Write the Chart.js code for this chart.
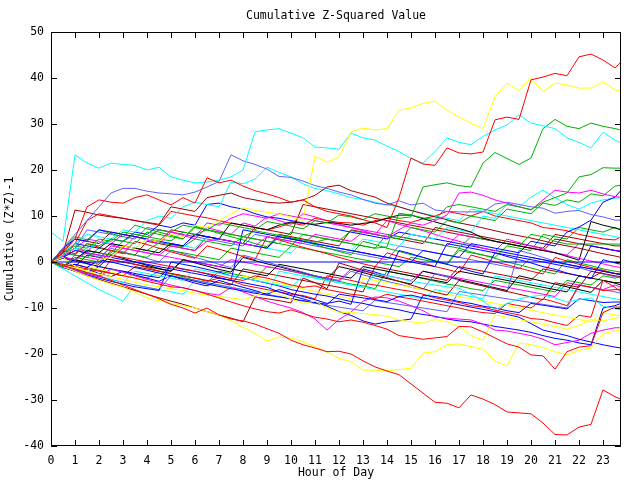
<!DOCTYPE html>
<html>
<head>
<meta charset="utf-8">
<script src="https://cdn.jsdelivr.net/npm/chart.js@4.4.1/dist/chart.umd.min.js"></script>
<style>
  html, body { margin: 0; padding: 0; background: #fff; }
</style>
</head>
<body>
<canvas id="myChart" width="640" height="480"></canvas>
<script>
// sample times, every half hour plus the last quarter
const hours = [
  0, 0.5, 1, 1.5, 2, 2.5, 3, 3.5, 4, 4.5, 5, 5.5, 6, 6.5, 7, 7.5, 8, 8.5, 9, 9.5,
  10, 10.5, 11, 11.5, 12, 12.5, 13, 13.5, 14, 14.5, 15, 15.5, 16, 16.5, 17, 17.5,
  18, 18.5, 19, 19.5, 20, 20.5, 21, 21.5, 22, 22.5, 23, 23.5, 23.75,
];
const hourTicks = [0, 1, 2, 3, 4, 5, 6, 7, 8, 9, 10, 11, 12, 13, 14, 15, 16, 17, 18, 19, 20, 21, 22, 23];

// one array per day
const blue0 = [
  0, 0, 0, 0, 0, 0, 0, 0, 0, 0, 0, 0, 0, 0, 0, 0, 0, 0, 0, 0, 0, 0, 0, 0, 0,
  0, 0, 0, 0, 0, 0, 0, 0, 0, 0, 0, 0, 0, 0, 0, 0, 0, 0, 0, 0, 0, 0, 0, 0,
];
const red1 = [
  0, 2, 5, 12, 13.5, 13, 12.8, 14, 14.6, 13.5, 12.4, 14, 12.8, 18.3, 17.2, 17.8,
  16.5, 15.5, 14.8, 14, 13, 13.5, 12, 11, 10.5, 10, 9.2, 8.5, 7.5, 14, 22.6, 21.3,
  21, 24.8, 23.7, 23.5, 23.9, 30.9, 31.5, 31, 39.6, 40.2, 41, 40.5, 44.6, 45.2,
  43.9, 42.2, 43.5,
];
const red2 = [
  0, -0.8, -1.5, -2.3, -3, -4, -5, -6, -7, -8, -9.2, -10, -11.1, -10, -11.5, -12.4,
  -12.8, -13.5, -14.5, -15.5, -17, -18, -18.7, -19.5, -19.4, -20, -21.5, -22.8,
  -23.7, -24.5, -26.5, -28.5, -30.5, -30.7, -31.7, -28.9, -29.8, -31, -32.6, -32.8,
  -33, -35, -37.5, -37.6, -35.9, -35.3, -27.8, -29.3, -29.8,
];
const red3 = [
  0, -0.5, -1, -1.5, -2, -2.5, -3, -3.5, -4.2, -4.8, -5.4, -5.6, -6.2, -7, -7.8,
  -8.7, -9.5, -10.2, -10.8, -11.1, -10.4, -11.2, -12, -12.4, -13, -12.6, -13.1,
  -13.8, -14.6, -16, -16.4, -16.8, -16.5, -16.2, -14, -14.1, -15.2, -16.5, -17.8,
  -18.5, -20.2, -20.4, -23.3, -19.5, -18.5, -18.2, -11, -9.8, -9.8,
];
const red4 = [
  0, 1.5, 3, 2.5, 2, 1.5, 1, 0.5, 0, -0.5, -1, -1.6, -2, -2.5, -3, -3.6, -4, -3,
  -3.5, -4.2, -5, -5.5, -5.2, -6, -6.5, -7, -7.3, -8, -7, -7.6, -8, -8.5, -9, -9.5,
  -10, -10.6, -11, -11.2, -9, -9.5, -10, -8, -8.7, -9.5, -5, -5.5, -6.2, -6, -6,
];
const red5 = [
  0, 1, 4, 9, 10.5, 10, 9.5, 9, 8.5, 8, 11, 10.5, 10, 9.6, 9, 8.4, 8, 7.5, 7, 7.6,
  8.5, 8, 9.5, 9, 8.6, 8.5, 8, 9, 9.5, 9, 8.6, 9.4, 10, 11, 10.5, 10, 11, 10, 9.5,
  9, 8.5, 7.5, 7.2, 6.8, 6, 5.5, 5, 4.8, 5.5,
];
const red6 = [
  0, -1, -1.6, -2.2, -3, 0.5, 0, -0.5, -1.2, -2, -2.5, -3, -3.5, -4.2, -3.5, -4, -5,
  -5.5, -6, -6.5, -7, -7.3, -8, -3, -3.5, -4, -4.6, -5, -5.5, -6, -6.4, -7, -7.8,
  -8.3, -8.8, -9.5, -9.8, -10.5, -11, -11.5, -12.3, -12.5, -13.2, -13.8, -11.6, -12,
  -4, -5.5, -6.5,
];
const red7 = [
  0, 2.5, 1.8, 4, 3.2, 2.5, 1.8, 4.5, 3.8, 3, 2.2, 1.5, 0.8, 3.5, 2.8, 2, 1.2, 0.5,
  5.5, 4.8, 4, 3.2, 2.5, 1.8, 1, 0.3, -0.4, -1, 2, 1.2, 0.5, -0.2, -1, -1.6, -2.3,
  1.5, 0.8, 0, -0.6, -1.3, -2, -2.6, 1, 0.2, -0.5, -1.2, -1.8, -2.5, -2.8,
];
const green1 = [
  0, 2, 3.5, 3, 5, 4.5, 6.5, 6, 5.5, 7, 6.5, 8, 7.5, 7, 8.5, 8, 7.5, 7, 8.8, 8.3,
  7.8, 7.2, 9, 8.5, 10.2, 9.8, 9.2, 10.5, 10, 9.5, 9.8, 16.3, 16.8, 17.2, 16.6, 16.3,
  21.5, 23.8, 22.5, 21.2, 22.6, 29, 31, 29.5, 29, 30.2, 29.5, 29, 28.7,
];
const green2 = [
  0, -1, 1.5, 4, 3.5, 5, 4.5, 6, 5.5, 5, 4.6, 6.5, 6, 7, 6.5, 6, 5.5, 6.8, 6.3, 5.8,
  5.3, 4.8, 4.3, 5, 4.5, 4, 3.5, 3, 3.3, 10.6, 10.2, 9.6, 9.2, 12, 12.5, 12, 11.5,
  11, 12.5, 12, 11.4, 13, 14, 15, 18.5, 19, 20.5, 20.4, 20.4,
];
const green3 = [
  0, 1, 0.5, 2.5, 2, 1.5, 3.5, 3, 2.5, 4.2, 3.8, 3.3, 5, 4.5, 4, 3.5, 5.5, 5, 4.5, 4,
  6.5, 6, 5.5, 5, 4.6, 6.8, 6.4, 6, 5.5, 5, 7.5, 7, 6.5, 9, 8.5, 10, 9.5, 9, 11.5, 11,
  10.5, 12.8, 12.3, 13.5, 13, 14.8, 14.4, 16.5, 16.7,
];
const green4 = [
  0, 2, 1.5, 1, 3, 2.5, 2, 1.5, 1, 3, 2.5, 2, 1.5, 1, 0.5, 3, 2.5, 2, 1.5, 1, 3.5, 3,
  2.5, 2, 1.5, 1, 0.5, 0, -0.5, -1, 1, 0.5, 0, -0.5, 2.5, 2, 1.5, 1, 3.5, 3, 2.5, 6,
  5.5, 5, 7.5, 7, 6.5, 7.5, 7,
];
const green5 = [
  0, -1, 1, 0.5, 0, 2, 4.5, 4, 6.5, 6, 5.5, 5, 7.5, 7, 6.5, 6, 5.5, 5, 4.5, 4, 3.5, 6,
  5.5, 5, 4.5, 4, 3.5, 3, 6, 5.5, 5, 4.5, 4, 3.5, 3, 5.5, 5, 4.5, 4, 3.5, 6, 5.5, 4.5,
  3.9, 3.9, 3.9, 3.9, 3.9, 3.9,
];
const green6 = [
  0, -1, -1.8, -2.5, -1, -1.6, -2.2, -3, -3.5, -2, -2.6, -3.2, -4, -4.5, -2, -2.5, -3,
  -3.6, -1, -1.5, -2, -2.6, -3.2, -3.8, -4.2, -4.8, -5.2, -5.8, -2, -2.5, -3, -3.6,
  -4.2, -4.8, -5.2, -5.8, -6.2, -4, -4.5, -5, -5.5, -6, -6.5, -4, -4.5, -5, -3, -3.5,
  -3.2,
];
const green7 = [
  0, 3, 5.5, 4.8, 7, 6.2, 5.5, 8, 7.2, 6.5, 5.8, 5, 7.8, 7, 6.2, 5.5, 4.8, 4, 3.3, 6,
  5.2, 4.5, 3.8, 3, 2.3, 1.6, 4.5, 3.8, 3, 2.3, 1.6, 1, 0.3, -0.4, 3, 2.2, 1.5, 0.8,
  0, -0.6, -1.3, -2, -2.6, 0.5, -0.2, -0.8, -1.5, -2, -2.2,
];
const blue1 = [
  0, 3, 5, 4.5, 7, 6.5, 6, 5.5, 5, 4.5, 4, 3.5, 6, 5.5, 5, 4.5, 4, 3.5, 3, 5.5, 5,
  4.5, 4, 3.5, 3, 2.5, 2, 1.5, 1, 0.5, 0, 2.5, 2, 1.5, 1, 4, 3.5, 3, 2.5, 2, 4.5, 4,
  3.5, 6.5, 7.6, 9.1, 13, 14.1, 15.6,
];
const blue2 = [
  0, -1, -0.5, -1.2, 0.5, 0, -0.6, -1.2, -1.8, -2.4, -3, -3.6, -4.2, -4.8, -5.3, -5.8,
  -6.3, -6.8, -7.2, -7.6, -8, -8.4, -8.8, -9.2, -7, -7.4, -7.8, -8.2, -8.6, -7.5,
  -7.2, -7.8, -8.3, -8.8, -9.3, -9.8, -10.3, -10.8, -11.4, -12, -13.4, -14.8, -15.4,
  -16, -16.8, -17.4, -18, -18.5, -18.7,
];
const blue3 = [
  0, 1, 2.5, 2, 1.5, 1, 0.5, 0, -0.5, -1, -1.5, -2, -2.5, -3, -3.5, -4, -4.5, -5,
  -5.5, -6.5, -7.3, -8, -8.8, -9.6, -10.8, -11.6, -12.8, -13.5, -13, -12.8, -12.4,
  -7.2, -7.5, -8, -8.6, -9, -9.6, -10, -10.6, -11, -9, -9.4, -9.8, -10.2, -8, -8.4,
  -8.8, -8.7, -8.7,
];
const blue4 = [
  0, -1.2, -2, -2.8, -3.5, -4.2, -4.8, -5.4, -5.8, -6.2, 0, -0.5, -1, -1.6, -2.2, -3,
  -3.5, -4, -4.6, -5.2, -6, -6.5, -7, -7.4, -8, -8.6, -9, -9.6, -10, -10.4, -11,
  -11.4, -11.8, -12.4, -12.8, -13, -13.5, -14, -14.4, -14.8, -15.3, -16, -16.6, -17,
  -17.6, -18, -10, -9.5, -9,
];
const blue5 = [
  0, 0.8, 0.2, -0.4, -1, -1.5, -2, -2.5, -3, -3.4, -1, -1.5, -2, -2.6, -3.4, -4, 7,
  6.5, 6, 5.5, 5, 4.5, 4, 3.5, 3, 2.5, 2, 1.5, 1, 0.5, 0, -0.5, -1, 4, 3.5, 3, 2.5, 2,
  1.5, 1, 0.5, 0, -0.5, -1, -1.5, 3.5, 3, 2.5, 2.2,
];
const blue6 = [
  0, 2, 4, 3.5, 3, 5, 4.5, 6.5, 6, 8, 7.5, 8.5, 8, 12.5, 12.8, 12, 11.5, 10.5, 9.8,
  9.5, 9, 8.5, 8, 7.5, 7, 6.5, 6, 5.5, 5, 6.5, 6, 5.5, 5, 4.5, 4, 3.5, 3, 2.5, 2, 1.5,
  1, 0.5, 0, -0.5, -1, -1.5, -2, -2.5, -2.8,
];
const blue7 = [
  0, -1, -2, -1.5, -2.5, -3.2, -2, -2.8, -3.5, -4.2, -3, -3.8, -4.6, -5.2, -4, -4.8,
  -5.5, -6.2, -7, -6, -6.8, -7.5, -8.2, -9, -8.5, -9.2, -1.5, -2.2, -3, 2.5, 1.8, 1,
  0.2, -0.5, -1.2, -2, -2.6, 2, 1.2, 0.5, -0.2, -1, -1.6, -2.4, -3, -3.6, 0.5, -0.2,
  -0.5,
];
const magenta1 = [
  0, 1, 0.5, 2, 1.5, 1, 3, 2.5, 2, 1.5, 3.5, 3, 2.5, 4.5, 5, 4.5, 4, 3.5, 5.5, 5, 4.5,
  4, 6, 5.5, 5, 4.5, 6.5, 6, 5.5, 7, 8.5, 8, 9, 10.2, 15, 15.2, 14.5, 13.5, 12.8, 12,
  11.3, 13.5, 15.6, 15.2, 15, 15.6, 14.8, 14.2, 14.1,
];
const magenta2 = [
  0, -1, -1.8, -2.6, -3.2, -1.5, -2.2, -3, -3.8, -4.4, -5, -5.6, -6.2, -6.8, -7.2,
  -5.5, -6.5, -7.5, -8.5, -9.3, -10, -11, -12.4, -14.8, -12.5, -10.9, -8.5, -7.6,
  -7.8, -8.5, -9.5, -10.6, -12, -12.2, -12.4, -12.6, -13.5, -14.8, -15, -15.5, -16,
  -16.8, -18, -17.5, -17, -15.5, -14.8, -14.3, -14.3,
];
const magenta3 = [
  0, 2, 1.5, 1, 0.5, 3.5, 3, 2.5, 2, 1.5, 1, 0.5, 0, -0.5, -1, 0.5, 0, -0.5, -1, -1.5,
  -2, -2.5, -3, -3.5, -4, -1.5, -2, -2.5, -3, -3.5, -4, -2, -2.5, -3, -3.5, -4, -4.5,
  -5, -5.5, -6, -6.5, -7, -7.5, -4.5, -5, -5.5, -6, -5, -5.5,
];
const magenta4 = [
  0, 1.5, 3, 5, 4.5, 4, 6, 5.5, 5, 7, 6.5, 6, 5.5, 8.5, 8, 9.5, 10.5, 10, 9.5, 10.5,
  10, 9.5, 9, 8.5, 8, 7.5, 7, 6.5, 6, 5.5, 5, 4.5, 4, 3.5, 6, 5.5, 5, 4.5, 4, 3.5, 3,
  2.5, 2, 1.5, 4, 3.5, 3, 2.5, 2.5,
];
const magenta5 = [
  0, 1.2, 3, 2.2, 4.5, 3.8, 3, 5.5, 4.8, 4, 6.5, 5.8, 5, 7.5, 6.8, 6, 8.5, 7.8, 9.8,
  9, 8.2, 10.5, 9.8, 9, 8.2, 7.5, 6.8, 6, 9, 8.2, 7.5, 6.8, 6, 5.2, 4.5, 3.8, 3, 2.4,
  5, 4.2, 3.5, 2.8, 2, 1.4, 0.8, 0.2, -0.4, -1, -1.2,
];
const cyan1 = [
  6.5, 4.5, 23.3, 21.5, 20.4, 21.5, 21.2, 21, 20, 20.6, 18.5, 17.8, 17.2, 17.4, 17.8,
  18.5, 20, 28.3, 28.7, 29, 28, 27, 25, 24.8, 24.5, 28, 27, 26.5, 25.2, 24, 22.5,
  21.5, 24, 27, 26, 25.5, 27.3, 28.7, 29.8, 32, 30.2, 29.6, 29, 27, 26, 24.8, 28.2,
  26.5, 25.9,
];
const cyan2 = [
  0, -1, -1.5, -2.2, -3, -3.8, -4.5, -2, -2.5, -3, -3.5, -4, -1.5, -2, -2.5, -3, -3.5,
  -4, -4.5, -5, -5.5, -3, -3.5, -4, -4.5, -5, -5.5, -2.5, -3, -3.5, -4.2, -4.6, -5,
  -5.4, -5.7, -7, -8.5, -10.4, -9, -8, -7.5, -7.2, -7.8, -8.7, -8.2, -7.8, -9.6,
  -10.2, -10.4,
];
const cyan3 = [
  0, -1.5, -3, -4.5, -6, -7.2, -8.5, -5, -5.5, -6, -6.5, -7, -4, -4.5, -5, -5.5, -6,
  -6.5, -7, -2, -2.5, -3, -3.5, -4, -4.5, -5, -5.5, -6, -6.5, -7, -7.5, -8, -6, -6.5,
  -7, -7.5, -8, -3, -3.5, -4, -4.5, -5, -5.5, -6, -6.5, -7, -7.5, -8, -8.2,
];
const cyan4 = [
  0, 1.5, 3, 2.5, 4.5, 4, 3.5, 3, 5, 4.5, 4, 3.5, 3, 5.5, 5, 4.5, 4, 3.5, 3, 2.5, 2,
  4.5, 4, 3.5, 3, 2.5, 5, 4.5, 4, 3.5, 6, 5.5, 5, 7.5, 7, 6.5, 10, 9.5, 12.5, 12, 14.1,
  15.6, 14, 12.5, 11.5, 12.8, 13.5, 13.9, 13.9,
];
const cyan5 = [
  0, 2, 4, 6, 5.5, 5, 7, 6.5, 9, 10, 9.5, 12, 13, 12.5, 12, 17.4, 17, 18, 20.6, 19.5,
  18.5, 17, 16, 15.5, 14.8, 14, 13.6, 13, 12.4, 12, 11.2, 10.6, 10, 9.5, 9, 11.5, 11,
  10.5, 10, 9.5, 9, 8.5, 8, 7.5, 7, 6.5, 6, 5.5, 5.3,
];
const darkred1 = [
  0, 2, 11.3, 10.8, 10.2, 9.8, 9.5, 9, 8.6, 8.2, 12, 11.5, 11, 14, 14.5, 15, 14, 13.5,
  13, 12.8, 13, 13.5, 14.5, 16.3, 16.7, 15.5, 14.8, 14.1, 12.8, 12, 11.2, 10.5, 9.8,
  9.2, 8.5, 8, 7.4, 6.8, 6.2, 5.7, 5.2, 4.6, 4, 3.5, 3, 2.4, 1.8, 1.3, 1,
];
const darkred2 = [
  0, 1, 0.5, 0, -0.5, 2.5, 2, 1.5, 4.5, 4, 3.5, 3, 2.5, 5.5, 5, 4.5, 4, 3.5, 3, 6, 5.5,
  5, 4.5, 4, 3.5, 7, 6.5, 6, 5.5, 5, 4.5, 4, 7.5, 7, 6.5, 6, 5.5, 5, 4.5, 4, 3.5, 3, 6,
  5.5, 5, 4.5, 4, 3.5, 3.5,
];
const darkred3 = [
  0, -1, -2, -3, -3.8, -4.6, -5.4, -6.2, -7, -7.8, -8.5, -9.2, -10, -10.8, -11.5,
  -12.2, -13, -7.6, -8, -8.4, -8.9, -3.5, -4.5, -5.8, -0.2, -1, -1.8, -2.6, -3.4,
  -4.2, -5, -5.8, -6.6, -7.2, -4, -4.6, -5.2, -5.8, -6.4, -7, -7.6, -8.2, -4.5, -5,
  -5.5, -2, -2.5, -3, -3.2,
];
const darkred4 = [
  0, 2.5, 5, 4.5, 4, 6.5, 6, 5.5, 5, 4.5, 7, 6.5, 6, 5.5, 5, 4.5, 4, 7.5, 7, 6.5, 6,
  12.5, 12, 11.5, 11, 10.5, 10, 9.5, 9, 8.5, 8, 7.5, 7, 6.5, 6, 5.5, 5, 4.5, 4, 3.5, 3,
  2.5, 5, 4.5, 4, 3.5, 3, 2.5, 2.3,
];
const darkred5 = [
  0, -1, -0.5, -1.2, -1.8, -2.4, -3, -1, -1.5, -2, -2.5, -3, -3.5, -4, -4.5, -5, -1.5,
  -2, -2.5, -3, -3.5, -4, -4.5, -5, -5.5, -6, -6.5, -1, -1.5, -2, -2.5, -3, -3.5, -4,
  -1, -1.5, -2, -2.5, -3, -3.5, -4, -1.5, -2, -2.5, -3, -3.5, -2, -2.5, -2.7,
];
const black1 = [
  0, 1, 0.5, 2.5, 2, 4, 3.5, 3, 2.5, 2, 4, 3.5, 6, 5.5, 5, 8.5, 8, 7.5, 7, 8, 8.7,
  8.4, 8.2, 8.6, 8.4, 8, 8.4, 8.7, 9.5, 10.2, 10.2, 9.4, 8.7, 8, 7.3, 6.5, 5.2, 4.5,
  4, 3.5, 3, 2.5, 2, 1.2, 0.4, 8.8, 8, 7.4, 7,
];
const black2 = [
  0, -0.5, -1, 1.5, 1, 0.5, 0, -0.5, -1, -1.5, -2, 0.5, 0, -0.5, -1, -1.5, -2, -2.5,
  -3, -0.5, -1, -1.5, -2, -2.5, -3, -3.5, -1, -1.5, -2, -2.5, -3, -3.5, -4, -4.5, -2,
  -2.5, -3, -3.5, -4, -4.5, -5, -5.5, -6, -6.5, -3, -3.5, -4, -4.5, -4.5,
];
const black3 = [
  0, -1, 0.5, -0.3, -1, 1.5, 0.8, 0, -0.7, -1.4, -2, 0.5, -0.2, -0.9, -1.6, -2.2, 1,
  0.3, -0.4, -1, -1.7, -2.3, -3, -3.6, -1, -1.6, -2.3, -3, -3.6, -4.2, -4.8, -2, -2.6,
  -3.2, -3.8, -4.4, -5, -5.6, -6.2, -3, -3.6, -4.2, -4.8, -5.4, -6, -6.6, -4, -4.6, -5,
];
const yellow1 = [
  0, 1, -1, -2, 0.5, 1, 3.5, 3, 5, 4.5, 6, 5.5, 8, 7.5, 9, 10.5, 11.8, 11.2, 10.8,
  10.4, 9.8, 9, 23, 21.7, 22.8, 28.3, 29.1, 28.7, 29, 33, 33.5, 34.5, 35, 33, 31.5,
  30.2, 29, 36, 38.9, 37.3, 40, 37, 38.9, 38.5, 37.8, 37.8, 39.2, 37.4, 37.2,
];
const yellow2 = [
  0, -1, -2, -3, -4, -4.8, -5.5, -6.6, -7.8, -8.4, -9, -9.5, -10, -10.8, -11.5, -12.8,
  -14.2, -15.5, -17.2, -16.3, -16.5, -17.4, -18.4, -19.6, -20.9, -21.7, -23.5, -23.5,
  -23.6, -23.4, -23.1, -19.8, -19.5, -18, -17.8, -18.4, -19, -21.5, -22.6, -17.6, -18,
  -18.6, -19.5, -20.2, -19.2, -18.7, -15.6, -15, -14.8,
];
const yellow3 = [
  0, -0.5, -1.2, -2, -2.6, -3.2, -3.8, -4.4, -5, -5.4, -5.8, -6.2, -6.8, -7.2, -7.5,
  -7.8, -8.2, -7.4, -6.2, -7, -8, -9, -8.5, -10, -10.9, -11, -11.2, -11.4, -11.8,
  -12.6, -13, -13.3, -12.5, -13, -14.1, -16, -17, -11.5, -12, -12.5, -13, -13.5, -14,
  -14.6, -13.8, -12.5, -12.8, -12.2, -12,
];
const yellow4 = [
  0, -1, -2, -1, -1.6, -2.2, -2.8, -3.4, -4, -2.5, -3, -3.6, -4.2, -4.8, -5.4, -6, -3,
  -3.5, -4, -4.6, -5.2, -5.8, -6.4, -7, -7.5, -8, -3.5, -4, -4.5, -5, -5.5, -6, -6.5,
  -7, -7.5, -8, -8.5, -9, -9.5, -10, -10.5, -11, -11.5, -12, -12.5, -13, -11, -11.5,
  -11.8,
];
const slate1 = [
  0, 3, 6, 9, 12, 15, 16, 16, 15.4, 15, 14.8, 14.6, 15.2, 16.3, 17.5, 23.3, 22, 21.2,
  20.2, 18.6, 18.4, 17.6, 16.6, 16, 15.2, 14.6, 13.6, 12.8, 12.4, 13.3, 12.4, 12.8,
  11.3, 11, 10.9, 10.9, 10.9, 12.6, 13, 12.5, 12, 11.7, 10.6, 11, 11.2, 10.3, 9.8,
  9.1, 9.1,
];
const slate2 = [
  0, -1, -1.8, -2.6, -3.2, -3.8, -4.4, -5, -5.5, -6, -3, -3.5, -4, -4.5, -5, -5.5, -6,
  -6.5, -7, -7.5, -8, -8.5, -9, -9.4, -9.8, -10.2, -10.6, -8.3, -8.8, -9.2, -9.6, -10,
  -10.4, -10.8, -6.4, -6.8, -7.2, -7.6, -8, -8.4, -8.8, -9.2, -9.6, -10, -5, -5.5, -6,
  -6.5, -6.8,
];
const slate3 = [
  0, 1.5, 3, 7, 6.5, 6, 5.5, 5, 7.5, 7, 6.5, 6, 5.5, 5, 4.5, 4, 3.5, 6, 5.5, 5, 4.5, 4,
  3.5, 3, 2.5, 2, 1.5, 1, 0.5, 3.5, 3, 2.5, 2, 1.5, 1, 0.5, 0, -0.5, -1, -1.5, 1, 0.5,
  0, -0.5, -1, -1.5, -2, -2.5, -2.5,
];
const slate4 = [
  0, 1, 2.5, 1.8, 1, 3, 2.2, 1.5, 0.8, 0, 2.5, 1.8, 1, 0.3, -0.5, -1.2, 1.5, 0.8, 0,
  -0.8, -1.5, -2.2, -3, -3.6, -4.2, -2, -2.8, -3.5, -4.2, -4.8, -5.5, -6, -2.5, -3.2,
  -4, -4.6, -5.2, -5.8, -6.5, 2.5, 1.8, 1, 0.2, -0.5, -1.2, -2, -2.6, -3.2, -3.5,
];

const RED = "#ff0000", GREEN = "#00b000", BLUE = "#0000ff", MAGENTA = "#ff00ff",
  CYAN = "#00ffff", DARKRED = "#a00000", BLACK = "#000000", YELLOW = "#ffff00",
  SLATE = "#6060ff";

// first in the list is drawn on top
const days = [
  [blue0, BLUE], [red1, RED], [yellow1, YELLOW], [cyan1, CYAN], [green1, GREEN],
  [green2, GREEN], [magenta1, MAGENTA], [slate1, SLATE], [red2, RED], [red3, RED],
  [yellow2, YELLOW], [yellow3, YELLOW], [blue1, BLUE], [black1, BLACK], [green5, GREEN],
  [cyan4, CYAN], [green3, GREEN], [blue2, BLUE], [magenta2, MAGENTA], [cyan2, CYAN],
  [darkred1, DARKRED], [cyan5, CYAN], [red4, RED], [blue3, BLUE], [blue7, BLUE],
  [blue4, BLUE], [blue5, BLUE], [darkred3, DARKRED], [red5, RED], [magenta5, MAGENTA],
  [blue6, BLUE], [magenta4, MAGENTA], [green7, GREEN], [darkred4, DARKRED],
  [red7, RED], [green4, GREEN], [yellow4, YELLOW], [slate2, SLATE], [slate4, SLATE],
  [cyan3, CYAN], [red6, RED], [black3, BLACK], [magenta3, MAGENTA], [darkred2, DARKRED],
  [black2, BLACK], [green6, GREEN], [darkred5, DARKRED], [slate3, SLATE],
];

const mono = { family: "'DejaVu Sans Mono', 'Liberation Mono', monospace", size: 11.5, lineHeight: "14px" };

// gnuplot style frame: box round the plot, ticks pointing inwards on all four sides
const frame = {
  id: "frame",
  afterDatasetsDraw(chart) {
    const { ctx, chartArea: a, scales } = chart;
    const len = 6;
    ctx.save();
    ctx.strokeStyle = "#000";
    ctx.lineWidth = 1;
    ctx.beginPath();
    scales.x.ticks.forEach((t) => {
      const px = Math.round(scales.x.getPixelForValue(t.value)) + 0.5;
      ctx.moveTo(px, a.bottom);
      ctx.lineTo(px, a.bottom - len);
      ctx.moveTo(px, a.top);
      ctx.lineTo(px, a.top + len);
    });
    scales.y.ticks.forEach((t) => {
      const py = Math.round(scales.y.getPixelForValue(t.value)) + 0.5;
      ctx.moveTo(a.left, py);
      ctx.lineTo(a.left + len, py);
      ctx.moveTo(a.right, py);
      ctx.lineTo(a.right - len, py);
    });
    ctx.stroke();
    ctx.strokeRect(a.left + 0.5, a.top + 0.5, a.right - a.left - 1, a.bottom - a.top - 1);
    ctx.restore();
  },
};

const myChart = new Chart("myChart", {
  type: "line",
  data: {
    datasets: days.map(([vals, color]) => ({
      data: vals.map((v, i) => ({ x: hours[i], y: v })),
      borderColor: color,
      backgroundColor: color,
      borderWidth: 1,
      pointRadius: 0,
      tension: 0,
      fill: false,
    })),
  },
  options: {
    responsive: false,
    animation: false,
    events: [],
    layout: { padding: { left: 0, right: 19, top: 0, bottom: 0 } },
    plugins: {
      legend: { display: false },
      tooltip: { enabled: false },
      title: {
        display: true,
        text: "Cumulative Z-Squared Value",
        fullSize: false,
        color: "#000",
        font: { ...mono, weight: "normal" },
        padding: { top: 9, bottom: 9 },
      },
    },
    scales: {
      x: {
        type: "linear",
        min: 0,
        max: 23.75,
        afterBuildTicks: (s) => {
          s.ticks = hourTicks.map((v) => ({ value: v }));
        },
        afterFit: (s) => {
          s.height = 34;
        },
        grid: { display: false, drawTicks: false },
        border: { display: false },
        ticks: { color: "#000", font: mono, padding: 8, maxRotation: 0, autoSkip: false },
        title: { display: true, text: "Hour of Day", color: "#000", font: mono, padding: 0 },
      },
      y: {
        type: "linear",
        min: -40,
        max: 50,
        afterFit: (s) => {
          s.width = 51;
        },
        grid: { display: false, drawTicks: false },
        border: { display: false },
        ticks: { stepSize: 10, color: "#000", font: mono, padding: 7 },
        title: {
          display: true,
          text: "Cumulative (Z*Z)-1",
          color: "#000",
          font: mono,
          padding: { top: 3, bottom: 0 },
        },
      },
    },
  },
  plugins: [frame],
});
</script>
</body>
</html>
